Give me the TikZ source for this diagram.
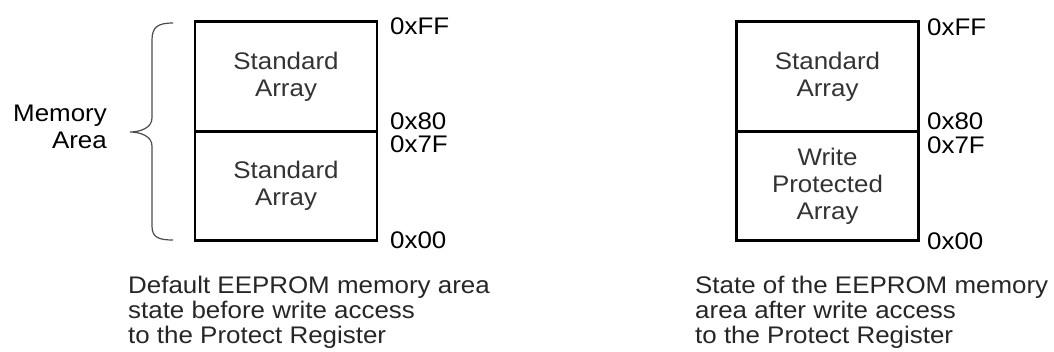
\documentclass[tikz,border=0pt]{standalone}
\usepackage{fontspec}
\setmainfont[FakeStretch=1.08]{Liberation Sans}
\begin{document}
\begin{tikzpicture}[x=1pt,y=-1pt,
  every node/.style={font=\fontsize{24}{27}\selectfont, inner sep=0pt},
  cell/.style={draw, line width=2.6pt, minimum width=182pt, minimum height=109.5pt, align=center, text=black!80},
  addr/.style={anchor=base west},
  note/.style={align=left, anchor=north west, font=\fontsize{24}{25}\selectfont, text=black!85}]
\useasboundingbox (0,0) rectangle (1054,352);
% before write access
\node[cell] (hiA) at (286,76.5) {Standard\\Array};
\node[cell] (loA) at (286,186) {Standard\\Array};
\node[addr] (ffA) at (390,35) {0xFF};
\node[addr] (80A) at (390,130) {0x80};
\node[addr] (7fA) at (390,153) {0x7F};
\node[addr] (00A) at (390,249) {0x00};
\node[align=right, anchor=north east] (mem) at (107,105) {Memory\\Area};
\draw[line width=1.2pt, black!70] (173,23) .. controls (158,23) and (152,27) .. (152,40) -- (152,118)
  .. controls (152,128) and (140,132) .. (130,132) .. controls (140,132) and (152,136) .. (152,146)
  -- (152,226) .. controls (152,237) and (158,240) .. (173,240);
\node[note] (capA) at (128,275.5) {Default EEPROM memory area\\state before write access\\to the Protect Register};
% after write access
\node[cell] (hiB) at (827.5,76.5) {Standard\\Array};
\node[cell] (loB) at (827.5,186) {Write\\Protected\\Array};
\node[addr] (ffB) at (927,36) {0xFF};
\node[addr] (80B) at (927,130) {0x80};
\node[addr] (7fB) at (927,154) {0x7F};
\node[addr] (00B) at (927,250) {0x00};
\node[note] (capB) at (695,275.5) {State of the EEPROM memory\\area after write access\\to the Protect Register};
\end{tikzpicture}
\end{document}
